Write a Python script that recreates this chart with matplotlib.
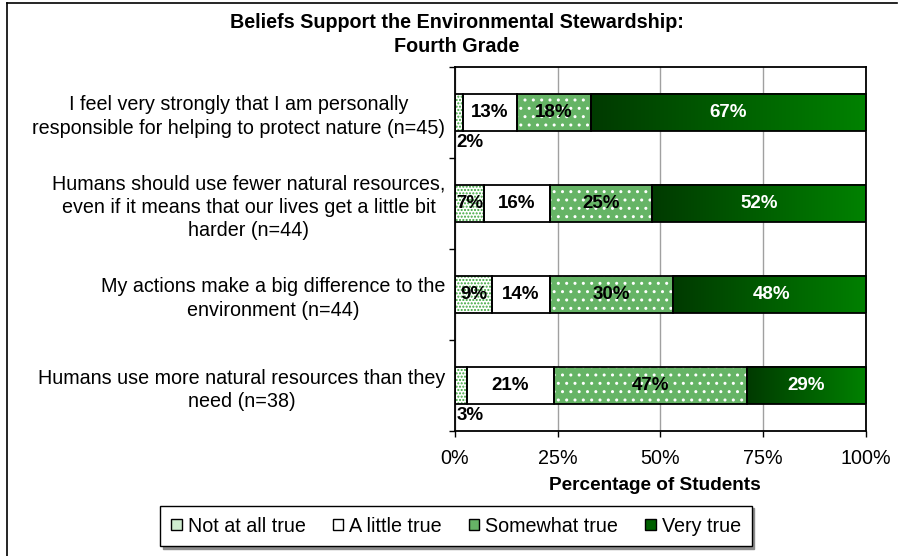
import numpy as np
import matplotlib
matplotlib.use("Agg")
import matplotlib.pyplot as plt
from matplotlib.patches import Patch
from matplotlib.lines import Line2D
from matplotlib.colors import LinearSegmentedColormap

plt.rcParams['font.family'] = ['Liberation Sans', 'DejaVu Sans']
plt.rcParams['hatch.linewidth'] = 1.0

categories = [
    "I feel very strongly that I am personally\nresponsible for helping to protect nature (n=45)",
    "Humans should use fewer natural resources,\neven if it means that our lives get a little bit\nharder (n=44)",
    "My actions make a big difference to the\nenvironment (n=44)",
    "Humans use more natural resources than they\nneed (n=38)",
]
series_names = ["Not at all true", "A little true", "Somewhat true", "Very true"]
not_at_all = [2, 7, 9, 3]
a_little = [13, 16, 14, 21]
somewhat = [18, 25, 30, 47]
very = [67, 52, 48, 29]
x_ticks = [0, 25, 50, 75, 100]
x_tick_labels = ["0%", "25%", "50%", "75%", "100%"]
title_lines = ["Beliefs Support the Environmental Stewardship:", "Fourth Grade"]
x_label = "Percentage of Students"

FS = 14.2
FS_DATA = 13.5
W, H = 902, 556
fig = plt.figure(figsize=(W / 100, H / 100), dpi=100)
ax = fig.add_axes([455 / W, 1 - 431 / H, (866 - 455) / W, (431 - 67) / H])

ypos = np.arange(len(categories))
bh = 0.41
series = [not_at_all, a_little, somewhat, very]
grad_cmap = LinearSegmentedColormap.from_list("g", ["#003a00", "#008200"])
grad = np.linspace(0, 1, 256).reshape(1, -1)

left = np.zeros(len(categories))
for si, vals in enumerate(series):
    vals = np.array(vals, dtype=float)
    for i, (y, v, l) in enumerate(zip(ypos, vals, left)):
        if si == 0:
            ax.barh(y, v, left=l, height=bh, color='white', edgecolor='#3aa53a',
                    hatch='.....', linewidth=0, zorder=2)
        elif si == 1:
            ax.barh(y, v, left=l, height=bh, color='white', linewidth=0, zorder=2)
        elif si == 2:
            ax.barh(y, v, left=l, height=bh, color='#66b466', edgecolor='white',
                    hatch='..', linewidth=0, zorder=2)
        else:
            ax.imshow(grad, cmap=grad_cmap, aspect='auto', interpolation='bilinear',
                      extent=[l, l + v, y + bh / 2, y - bh / 2], zorder=2)
        ax.barh(y, v, left=l, height=bh, fill=False, edgecolor='black',
                linewidth=1.3, zorder=3)
        txt = f"{int(v)}%"
        color = 'white' if si == 3 else 'black'
        if v < 5:
            ax.text(l + 0.3, y + bh / 2 + 0.03, txt, ha='left', va='top',
                    fontsize=FS_DATA, fontweight='bold', color='black', zorder=4)
        else:
            ax.text(l + v / 2, y, txt, ha='center', va='center',
                    fontsize=FS_DATA, fontweight='bold', color=color, zorder=4)
    left = left + vals

ax.set_xlim(0, 100)
ax.set_ylim(len(categories) - 0.5, -0.5)
ax.set_xticks(x_ticks)
ax.set_xticklabels(x_tick_labels, fontsize=FS)
ax.set_yticks(ypos)
ax.set_yticklabels(categories, fontsize=FS, linespacing=1.28)
for lab in ax.get_yticklabels():
    lab.set_multialignment('center')
ax.set_yticks(np.arange(-0.5, len(categories), 1.0), minor=True)
ax.tick_params(axis='y', which='major', length=0, pad=7)
ax.tick_params(axis='y', which='minor', length=4, width=1, direction='out')
ax.tick_params(axis='x', which='major', length=4, width=1, direction='out', pad=9)
ax.xaxis.grid(True, color='#a0a0a0', linewidth=1, zorder=0)
ax.set_axisbelow(True)
for s in ax.spines.values():
    s.set_linewidth(1.3)
    s.set_color('black')

fig.text(457 / W, 1 - 22 / H, title_lines[0], ha='center', va='center',
         fontsize=FS, fontweight='bold')
fig.text(457 / W, 1 - 46 / H, title_lines[1], ha='center', va='center',
         fontsize=FS, fontweight='bold')
fig.text(655 / W, 1 - 486 / H, x_label, ha='center', va='center',
         fontsize=FS - 0.5, fontweight='bold')

handles = [
    Patch(facecolor='#cfeccf', edgecolor='black', label=series_names[0]),
    Patch(facecolor='white', edgecolor='black', label=series_names[1]),
    Patch(facecolor='#66b466', edgecolor='black', label=series_names[2]),
    Patch(facecolor='#006000', edgecolor='black', label=series_names[3]),
]
leg = fig.legend(handles=handles, loc='center', bbox_to_anchor=(456 / W, 1 - 526 / H),
                 ncol=4, fontsize=FS, frameon=True, fancybox=False, edgecolor='black',
                 handlelength=0.55, handleheight=0.55, handletextpad=0.3,
                 columnspacing=1.35, borderpad=0.55,
                 shadow={'ox': 2, 'oy': -2, 'color': '0.55', 'alpha': 1})
leg.get_frame().set_linewidth(1.0)

fig.add_artist(Line2D([7 / W, 7 / W], [0, 1 - 3 / H], transform=fig.transFigure,
                      color='black', linewidth=1.2))
fig.add_artist(Line2D([7 / W, 897 / W], [1 - 3 / H, 1 - 3 / H], transform=fig.transFigure,
                      color='black', linewidth=1.2))

fig.savefig("out.png", dpi=100)
